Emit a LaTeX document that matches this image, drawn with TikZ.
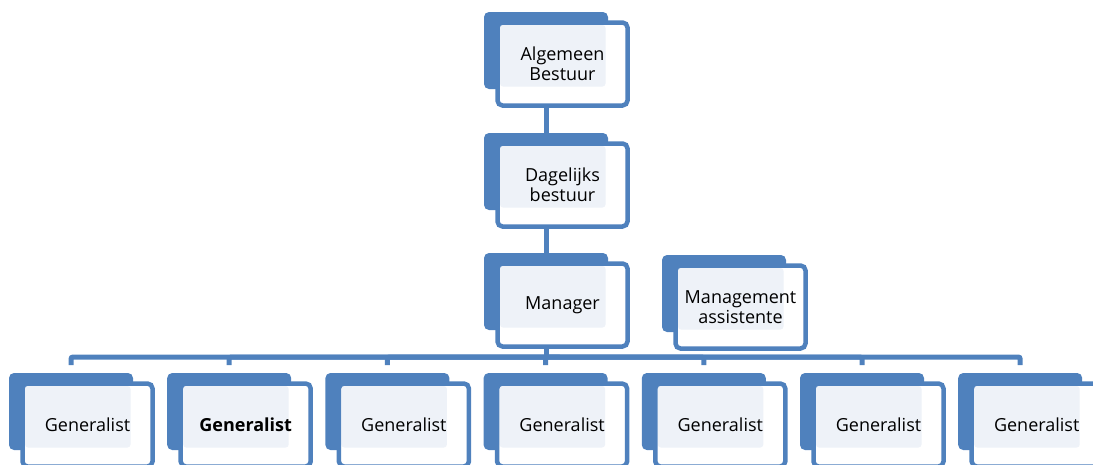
\documentclass[tikz,border=0pt]{standalone}
\usepackage{fontspec}
\setmainfont{Open Sans}
\usetikzlibrary{backgrounds}
\definecolor{orgblue}{RGB}{79,129,189}
\definecolor{orglight}{RGB}{238,242,248}

% one chart box: name, x, y (top left of the back plate), text
\newcommand\orgbox[4]{%
  \node [backbox] (#1) at (#2,#3) {};
  \node [frontbox] (#1f) at ([shift={(13.5pt,-10.5pt)}]#1.north west) {#4};
}

\begin{document}
\begin{tikzpicture}[x=1pt,y=-1pt,
    backbox/.style={
      % the plate behind
      rectangle,rounded corners=5pt,minimum width=124pt,minimum height=77pt,
      inner sep=0pt,outer sep=0pt,anchor=north west,fill=orgblue},
    frontbox/.style={
      % the box in front
      rectangle,rounded corners=5pt,minimum width=130pt,minimum height=83pt,
      inner sep=0pt,outer sep=0pt,anchor=north west,
      line width=4.5pt,draw=orgblue,fill=white,
      align=center,font=\fontsize{18}{20}\selectfont,
      path picture={\fill [orglight,rounded corners=3pt]
        ([shift={(2.5pt,-2.5pt)}]path picture bounding box.north west)
        rectangle ([shift={(108pt,-64pt)}]path picture bounding box.north west);}},
    link/.style={draw=orgblue,line width=5pt,rounded corners=2pt}]
  \useasboundingbox (0,0) rectangle (1093,464);

  \orgbox{alg}{484}{12}{Algemeen\\Bestuur}
  \orgbox{dag}{484}{133}{Dagelijks\\bestuur}
  \orgbox{mgr}{484}{253}{Manager}
  \orgbox{ass}{662}{255}{Management\\assistente}
  \foreach \i/\txt [evaluate=\i as \x using 9+158.2*(\i-1)] in {1/Generalist,
      2/\textbf{Generalist},3/Generalist,4/Generalist,5/Generalist,
      6/Generalist,7/Generalist}
    \orgbox{g\i}{\x}{373}{\txt};

  \coordinate (bus) at (546,357);
  \begin{scope}[on background layer]
    \draw [link] (alg.south) -- (dag.north);
    \draw [link] (dag.south) -- (mgr.north);
    \draw [link] (mgr.south) -- (bus);
    \foreach \i in {1,...,7}
      \draw [link] (bus) -| ([yshift=8pt]g\i.north);
  \end{scope}
\end{tikzpicture}
\end{document}
